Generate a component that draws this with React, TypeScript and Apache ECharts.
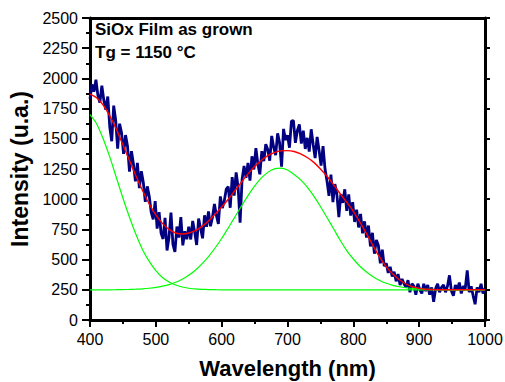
import { useEffect, useRef } from "react";
import * as echarts from "echarts";

// Axis ranges and tick steps
const X_MIN = 400;
const X_MAX = 1000;
const X_STEP = 100;
const Y_MIN = 0;
const Y_MAX = 2500;
const Y_STEP = 250;

// Fitted curves, sampled every 10 nm from 400 nm
const FIT_WL_START = 400;
const FIT_WL_STEP = 10;
const fitTotal = [
  1870, 1840, 1780, 1690, 1580, 1450, 1320, 1190, 1070, 960,
  870, 800, 750, 720, 712, 720, 740, 775, 820, 875,
  935, 1000, 1070, 1140, 1210, 1270, 1320, 1360, 1385, 1400,
  1402, 1395, 1375, 1345, 1305, 1250, 1190, 1120, 1045, 975,
  900, 810, 715, 615, 520, 440, 380, 333, 298, 275,
  262, 255, 252, 250, 250, 250, 250, 250, 250, 250,
  250,
];
const peakUv = [
  1700, 1625, 1500, 1350, 1180, 1010, 850, 705, 580, 485,
  408, 352, 315, 290, 273, 263, 257, 254, 252, 251,
  250, 250, 250, 250, 250, 250, 250, 250, 250, 250,
  250, 250, 250, 250, 250, 250, 250, 250, 250, 250,
  250, 250, 250, 250, 250, 250, 250, 250, 250, 250,
  250, 250, 250, 250, 250, 250, 250, 250, 250, 250,
  250,
];
const peakVisible = [
  250, 250, 250, 250, 251, 252, 253, 255, 258, 263,
  270, 280, 293, 312, 338, 371, 412, 464, 525, 596,
  675, 762, 852, 943, 1030, 1108, 1174, 1222, 1251, 1258,
  1242, 1205, 1160, 1100, 1025, 940, 848, 755, 660, 575,
  505, 445, 397, 358, 327, 304, 287, 275, 267, 261,
  257, 254, 253, 252, 251, 250, 250, 250, 250, 250,
  250,
];

// Measured PL spectrum, sampled every 3 nm from 400 nm
const SPEC_WL_START = 400;
const SPEC_WL_STEP = 3;
const spectrum = [
  1830, 1950, 1890, 1990, 1860, 1800, 1940, 1820, 1740, 1850,
  1600, 1480, 1775, 1655, 1418, 1625, 1547, 1376, 1531, 1438,
  1229, 1397, 1291, 1147, 1301, 1091, 1232, 1139, 979, 1106,
  1025, 890, 833, 984, 757, 893, 718, 671, 845, 575,
  685, 890, 626, 563, 773, 683, 852, 618, 735, 669,
  772, 667, 820, 728, 621, 839, 758, 676, 867, 772,
  898, 776, 849, 961, 865, 795, 1023, 926, 986, 1084,
  1104, 929, 1182, 1029, 1222, 1099, 806, 1164, 1275, 1177,
  1301, 1153, 1355, 1246, 1423, 1289, 1206, 1397, 1315, 1455,
  1412, 1319, 1524, 1431, 1365, 1545, 1466, 1270, 1582, 1490,
  1529, 1426, 1647, 1650, 1467, 1569, 1620, 1460, 1567, 1416,
  1508, 1394, 1579, 1453, 1341, 1515, 1402, 1278, 1439, 1250,
  1151, 1027, 1203, 975, 1125, 1040, 852, 1041, 970, 1082,
  903, 1040, 865, 976, 812, 913, 766, 878, 717, 817,
  682, 782, 609, 722, 549, 662, 619, 470, 582, 446,
  470, 390, 440, 360, 400, 320, 380, 290, 340, 300,
  270, 330, 230, 300, 280, 210, 300, 250, 220, 300,
  240, 290, 210, 270, 150, 260, 300, 230, 270, 290,
  230, 280, 370, 240, 200, 290, 250, 310, 220, 280,
  260, 410, 230, 280, 200, 130, 270, 230, 300, 220,
  260,
];

const annotation = ["SiOx Film as grown", "Tg = 1150 °C"];
const xTitle = "Wavelength (nm)";
const yTitle = "Intensity (u.a.)";

const FONT = "'Liberation Sans', Arial, Helvetica, sans-serif";

const toPairs = (start: number, step: number, vals: number[]) =>
  vals.map((v, i) => [start + i * step, v]);

const axisLine = { onZero: false, lineStyle: { color: "#000", width: 3 } };
const tickStyle = { color: "#000", width: 2 };
const plainNumber = (v: number) => String(v);

export default function App() {
  const ref = useRef<HTMLDivElement>(null);

  useEffect(() => {
    if (!ref.current) return;
    const chart = echarts.init(ref.current, null, { renderer: "svg" });
    chart.setOption({
      animation: false,
      backgroundColor: "#fff",
      grid: {
        left: 90,
        right: 20,
        top: 18,
        bottom: 62,
        containLabel: false,
        outerBoundsMode: "none",
      },
      xAxis: [
        {
          type: "value",
          position: "bottom",
          min: X_MIN,
          max: X_MAX,
          interval: X_STEP,
          axisLine,
          axisTick: { length: 7, lineStyle: tickStyle },
          minorTick: { show: true, splitNumber: 2, length: 4, lineStyle: tickStyle },
          splitLine: { show: false },
          axisLabel: {
            fontFamily: FONT,
            fontSize: 16,
            color: "#000",
            margin: 11,
            formatter: plainNumber,
          },
          name: xTitle,
          nameLocation: "middle",
          nameGap: 37,
          nameTextStyle: {
            fontFamily: FONT,
            fontSize: 22,
            fontWeight: "bold",
            color: "#000",
            verticalAlign: "top",
          },
        },
        {
          type: "value",
          position: "top",
          min: X_MIN,
          max: X_MAX,
          interval: X_STEP,
          axisLine,
          axisTick: { show: false },
          axisLabel: { show: false },
          splitLine: { show: false },
        },
      ],
      yAxis: [
        {
          type: "value",
          position: "left",
          min: Y_MIN,
          max: Y_MAX,
          interval: Y_STEP,
          axisLine,
          axisTick: { length: 8, lineStyle: tickStyle },
          minorTick: { show: true, splitNumber: 2, length: 4, lineStyle: tickStyle },
          splitLine: { show: false },
          axisLabel: {
            fontFamily: FONT,
            fontSize: 16,
            color: "#000",
            margin: 12,
            formatter: plainNumber,
          },
          name: yTitle,
          nameLocation: "middle",
          nameGap: 58,
          nameTextStyle: {
            fontFamily: FONT,
            fontSize: 23,
            fontWeight: "bold",
            color: "#000",
          },
        },
        {
          type: "value",
          position: "right",
          min: Y_MIN,
          max: Y_MAX,
          interval: Y_STEP,
          axisLine,
          axisTick: { length: 5, lineStyle: tickStyle },
          axisLabel: { show: false },
          splitLine: { show: false },
        },
      ],
      graphic: [
        {
          type: "text",
          left: 95,
          top: 18,
          z: 10,
          style: {
            text: annotation.join("\n"),
            font: `bold 17px ${FONT}`,
            lineHeight: 23,
            fill: "#000",
          },
        },
      ],
      series: [
        {
          type: "line",
          data: toPairs(SPEC_WL_START, SPEC_WL_STEP, spectrum),
          showSymbol: false,
          lineStyle: { color: "#000080", width: 2.8 },
          z: 2,
        },
        {
          type: "line",
          data: toPairs(FIT_WL_START, FIT_WL_STEP, peakUv),
          showSymbol: false,
          smooth: 0.3,
          lineStyle: { color: "#00ff00", width: 1.2 },
          z: 3,
        },
        {
          type: "line",
          data: toPairs(FIT_WL_START, FIT_WL_STEP, peakVisible),
          showSymbol: false,
          smooth: 0.3,
          lineStyle: { color: "#00ff00", width: 1.2 },
          z: 3,
        },
        {
          type: "line",
          data: toPairs(FIT_WL_START, FIT_WL_STEP, fitTotal),
          showSymbol: false,
          smooth: 0.3,
          lineStyle: { color: "#ff0000", width: 1.4 },
          z: 4,
        },
      ],
    });
    return () => chart.dispose();
  }, []);

  return (
    <div
      ref={ref}
      style={{ position: "absolute", left: 0, top: 0, width: 505, height: 382 }}
    />
  );
}
